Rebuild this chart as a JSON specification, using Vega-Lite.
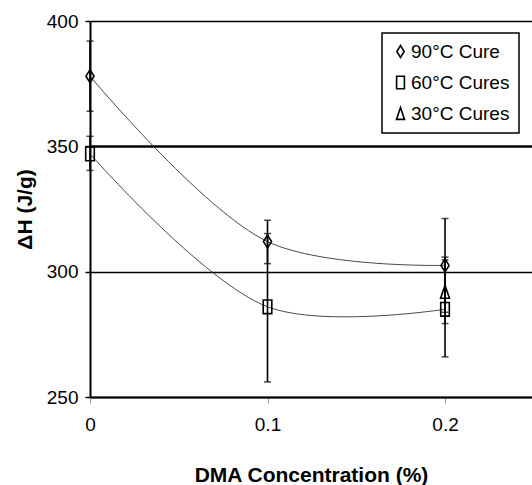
{
  "$schema": "https://vega.github.io/schema/vega-lite/v6.json",
  "width": 442,
  "height": 376,
  "autosize": {"type": "none"},
  "padding": {"left": 90, "top": 21, "right": 0, "bottom": 88},
  "background": "white",
  "config": {
    "view": {"stroke": null},
    "font": "Liberation Sans",
    "legend": {
      "orient": "none",
      "legendX": 292,
      "legendY": 12,
      "strokeColor": "black",
      "strokeWidth": 1.5,
      "fillColor": "white",
      "padding": 9,
      "symbolSize": 140,
      "symbolStrokeWidth": 1.6,
      "symbolStrokeColor": "black",
      "labelOffset": 1,
      "labelFontSize": 19,
      "labelColor": "black",
      "rowPadding": 11,
      "title": null
    }
  },
  "data": {
    "values": [
      {"series": "90°C Cure", "conc": 0, "dh": 378, "lo": 364, "hi": 392},
      {"series": "90°C Cure", "conc": 0.1, "dh": 312, "lo": 303.2, "hi": 320.5},
      {"series": "90°C Cure", "conc": 0.2, "dh": 302.5, "lo": 283.8, "hi": 321.2},
      {"series": "60°C Cures", "conc": 0, "dh": 347, "lo": 340.4, "hi": 354},
      {"series": "60°C Cures", "conc": 0.1, "dh": 286, "lo": 256, "hi": 315.2},
      {"series": "60°C Cures", "conc": 0.2, "dh": 285, "lo": 266, "hi": 305.8},
      {"series": "30°C Cures", "conc": 0.2, "dh": 292, "lo": 279.3, "hi": 304.7}
    ]
  },
  "layer": [
    {
      "transform": [{"filter": "datum.series !== '30°C Cures'"}],
      "mark": {"type": "line", "interpolate": "catmull-rom", "color": "#333", "strokeWidth": 0.9},
      "encoding": {
        "x": {
          "field": "conc", "type": "quantitative", "title": "DMA Concentration (%)",
          "scale": {"domain": [0, 0.249], "nice": false, "zero": false},
          "axis": {
            "values": [0, 0.1, 0.2], "format": "~g", "grid": false, "labelFlush": false,
            "domainColor": "black", "domainWidth": 2,
            "tickColor": "#999", "tickSize": 6, "tickWidth": 1,
            "labelFontSize": 19, "labelColor": "black", "labelPadding": 12,
            "titleFontSize": 21, "titleFontWeight": "bold", "titleColor": "black", "titlePadding": 30
          }
        },
        "y": {
          "field": "dh", "type": "quantitative", "title": "ΔH (J/g)",
          "scale": {"domain": [250, 400], "nice": false, "zero": false},
          "axis": {
            "values": [250, 300, 350, 400], "grid": true, "gridColor": "black", "gridOpacity": 1, "labelFlush": false,
            "gridWidth": {"condition": {"test": "datum.value === 350", "value": 2.5}, "value": 1.5},
            "domainColor": "black", "domainWidth": 2,
            "tickColor": "black", "tickSize": 5, "tickWidth": 1.5,
            "labelFontSize": 19, "labelColor": "black", "labelPadding": 7,
            "titleFontSize": 21, "titleFontWeight": "bold", "titleColor": "black", "titlePadding": 11
          }
        },
        "detail": {"field": "series"}
      }
    },
    {
      "mark": {"type": "rule", "color": "black", "strokeWidth": 1.6},
      "encoding": {
        "x": {"field": "conc", "type": "quantitative", "title": "DMA Concentration (%)"},
        "y": {"field": "lo", "type": "quantitative", "title": "ΔH (J/g)"},
        "y2": {"field": "hi"}
      }
    },
    {
      "mark": {"type": "tick", "orient": "horizontal", "size": 7, "thickness": 1.5, "color": "black"},
      "encoding": {
        "x": {"field": "conc", "type": "quantitative", "title": "DMA Concentration (%)"},
        "y": {"field": "lo", "type": "quantitative", "title": "ΔH (J/g)"}
      }
    },
    {
      "mark": {"type": "tick", "orient": "horizontal", "size": 7, "thickness": 1.5, "color": "black"},
      "encoding": {
        "x": {"field": "conc", "type": "quantitative", "title": "DMA Concentration (%)"},
        "y": {"field": "hi", "type": "quantitative", "title": "ΔH (J/g)"}
      }
    },
    {
      "mark": {"type": "point", "filled": false, "color": "black", "stroke": "black", "strokeWidth": 1.6, "size": 169, "opacity": 1},
      "encoding": {
        "x": {"field": "conc", "type": "quantitative", "title": "DMA Concentration (%)"},
        "y": {"field": "dh", "type": "quantitative", "title": "ΔH (J/g)"},
        "shape": {
          "field": "series", "type": "nominal",
          "scale": {
            "domain": ["90°C Cure", "60°C Cures", "30°C Cures"],
            "range": ["M0,-1L0.62,0L0,1L-0.62,0Z", "M-0.66,-1.05H0.66V1.05H-0.66Z", "M0,-1L0.68,1L-0.68,1Z"]
          }
        }
      }
    }
  ]
}
